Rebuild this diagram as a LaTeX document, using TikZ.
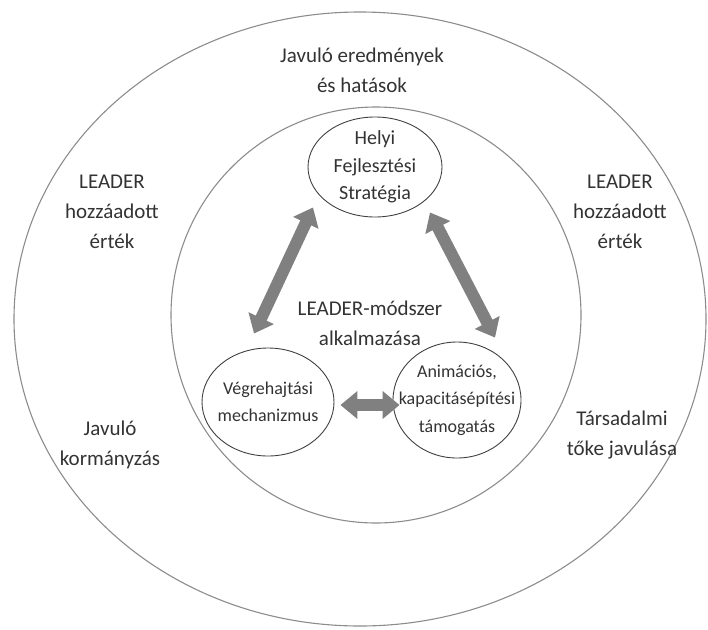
\documentclass[tikz,border=0pt]{standalone}
\usepackage{fontspec}
\setmainfont{Carlito}
\usetikzlibrary{arrows.meta,shapes.geometric,positioning}

\begin{document}
\begin{tikzpicture}[x=1pt,y=-1pt, every node/.style={text=black!80}]
    \tikzset{ring/.style={draw=black!45, line width=1.1pt},
      blob/.style={ellipse, draw=black!75, line width=0.9pt, inner sep=0pt},
      outertext/.style={align=center, font=\fontsize{21}{30}\selectfont},
      blobtext/.style={align=center, font=\fontsize{18}{27.5}\selectfont},
      flow/.style={draw=black!50, line width=12pt,
        {Triangle[length=17pt,width=27pt]}-{Triangle[length=17pt,width=27pt]}}}
    \useasboundingbox (0,0) rectangle (708,629);

    \draw[ring] (360,319) ellipse [x radius=346pt, y radius=307pt];
    \draw[ring] (376,315) ellipse [x radius=205pt, y radius=208pt];

    \node[blob, minimum width=134pt, minimum height=100pt,
      label={[blobtext, font=\fontsize{20}{27.5}\selectfont]center:Helyi\\Fejlesztési\\Stratégia}] (strat) at (375,167) {};
    \node[blob, minimum width=132pt, minimum height=108pt,
      label={[blobtext]center:Végrehajtási\\mechanizmus}] (vegre) at (268,402) {};
    \node[blob, minimum width=128pt, minimum height=116pt,
      label={[blobtext]center:Animációs,\\kapacitásépítési\\támogatás}] (anim) at (457,400) {};

    \node[outertext] (results) at (362,70) {Javuló eredmények\\és hatások};
    \node[outertext] (addleft) at (112,212) {LEADER\\hozzáadott\\érték};
    \node[outertext] (addright) at (620,212) {LEADER\\hozzáadott\\érték};
    \node[outertext] (method) at (370,323) {LEADER-módszer\\alkalmazása};
    \node[outertext] (govern) at (110,445) {Javuló\\kormányzás};
    \node[outertext] (social) at (622,435) {Társadalmi\\tőke javulása};

    \draw[flow] ([shift={(-14,-14)}]vegre.north) -- ([shift={(-62,-10)}]strat.south);
    \draw[flow] ([shift={(55,-5)}]strat.south) -- ([shift={(38,-4)}]anim.north);
    \draw[flow] ([shift={(6,3)}]vegre.east) -- ([shift={(7,5)}]anim.west);
\end{tikzpicture}
\end{document}
